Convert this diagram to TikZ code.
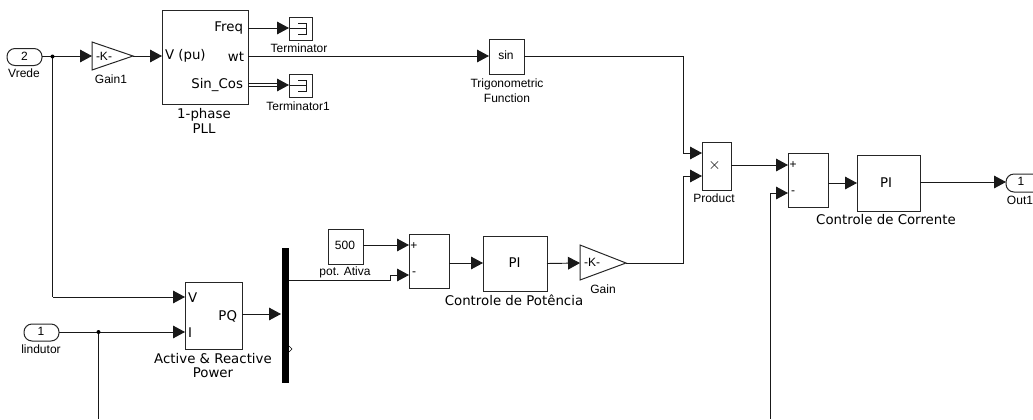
\documentclass[tikz,border=0pt]{standalone}
\usepackage{fontspec}
\setmainfont{Liberation Sans}
\newfontfamily\djv{DejaVu Sans}
\usetikzlibrary{arrows.meta,fit}
\tikzset{
  x=0.75pt,y=-0.75pt,
  blk/.style={draw=black!85,line width=0.75pt,inner sep=0pt,outer sep=0pt},
  lab/.style={inner sep=0pt,outer sep=0pt,align=center,font=\fontsize{9}{11}\selectfont},
  labd/.style={inner sep=0pt,outer sep=0pt,align=center,font=\djv\fontsize{10}{10.7}\selectfont},
  port/.style={inner sep=0pt,outer sep=0pt,font=\djv\fontsize{10}{11}\selectfont},
  pill/.style={blk,rounded corners=6pt},
  wire/.style={line width=0.7pt,draw=black!90},
  arr/.style={wire,-{Triangle[length=9pt,width=9.5pt]}},
  dot/.style={circle,fill=black,inner sep=0pt,minimum size=3pt}
}
\begin{document}
\begin{tikzpicture}
\useasboundingbox (0,0) rectangle (1033,419);

% inports
\node[pill,fit={(7,48.5)(42,65.5)}] (vrede) {};
\node[lab] (vreden) at (24.5,56) {2};
\node[lab] (vredel) at (24,73) {Vrede};
\node[pill,fit={(24,324)(59,341)}] (iind) {};
\node[lab] (iindn) at (41,331) {1};
\node[lab] (iindl) at (41,349) {lindutor};

% gain 1
\draw[blk] (92,42) -- (133,56) -- (92,70) -- cycle;
\coordinate (g1in) at (92,56);
\coordinate (g1out) at (133,56);
\node[lab] (g1t) at (104,56) {-K-};
\node[lab] (g1l) at (111,79) {Gain1};

% PLL
\node[blk,fit={(162,10)(248,104)}] (pll) {};
\node[port,anchor=west] (pllv) at (165,56) {V (pu)};
\node[port,anchor=east] (pllf) at (243,28) {Freq};
\node[port,anchor=east] (pllw) at (244,57) {wt};
\node[port,anchor=east] (plls) at (243,85) {Sin\_Cos};
\node[labd] (plll) at (204,121) {1-phase\\PLL};
\coordinate (pllin) at (162,56);
\coordinate (pllfo) at (248,28);
\coordinate (pllwo) at (248,56);
\coordinate (pllso) at (248,85);
\coordinate (pllsa) at (248,83.8);
\coordinate (pllsb) at (248,86.4);

% terminators
\node[blk,fit={(289,17)(312,40)}] (term) {};
\node[blk,fit={(289,74)(312,97)}] (term1) {};
\coordinate (dbla) at (280,83.8);
\coordinate (dblb) at (280,86.4);
\node[lab] (terml) at (299,48) {Terminator};
\node[lab] (term1l) at (298,106) {Terminator1};
\draw[wire,line width=0.6pt] (290,28.5) -- (306,28.5) (298,23) -- (306,23) -- (306,34) -- (298,34);
\draw[wire,line width=0.6pt] (290,85.5) -- (306,85.5) (298,80) -- (306,80) -- (306,91) -- (298,91);

% sin
\node[blk,fit={(489,39)(524,74)}] (sin) {};
\node[lab] (sint) at (506,55) {sin};
\node[lab] (sinl) at (507,90.5) {Trigonometric\\Function};

% active & reactive power
\node[blk,fit={(185,282)(242,349)}] (apq) {};
\node[port,anchor=west] (apqv) at (188,298) {V};
\node[port,anchor=west] (apqi) at (188,333) {I};
\node[port,anchor=east] (apqo) at (237,316) {PQ};
\node[labd] (apql) at (213,365.5) {Active \& Reactive\\Power};
\coordinate (apqvin) at (185,297);
\coordinate (apqiin) at (185,332);
\coordinate (apqout) at (242,314);

% demux bar
\node[draw=black,fill=black,inner sep=0pt,outer sep=0pt,fit={(282.5,248.5)(288.5,382.5)}] (bar) {};
\draw[line width=0.5pt] (289,346) -- (292,349) -- (289,352);
\coordinate (barin) at (281,314);
\coordinate (barout) at (289,280);

% 500 + labels
\node[blk,fit={(328,229)(363,264)}] (c500) {};
\node[lab] (c500t) at (345,245) {500};
\node[lab] (c500l) at (345,272) {pot. Ativa};

% sum 1
\node[blk,fit={(409,234)(449,288)}] (s1) {};
\node[lab] (s1p) at (414,246) {+};
\node[lab] (s1m) at (414,274) {-};
\coordinate (s1a) at (409,245);
\coordinate (s1b) at (409,275);
\coordinate (s1o) at (449,263);

% PI 1
\node[blk,fit={(483,236)(547,291)}] (pi1) {};
\node[port] (pi1t) at (514.5,263) {PI};
\node[labd] (pi1l) at (514,300.5) {Controle de Potência};

% Gain
\draw[blk] (580,245) -- (626,263) -- (580,280) -- cycle;
\coordinate (gin) at (580,263);
\coordinate (gout) at (626,263);
\node[lab] (gt) at (592,262) {-K-};
\node[lab] (gl) at (603,289) {Gain};

% product
\node[blk,fit={(702,142)(731,190)}] (prod) {};
\node[inner sep=0pt,font=\fontsize{13}{13}\selectfont] (prodt) at (714.5,165.5) {$\times$};
\node[lab] (prodl) at (714,198) {Product};
\coordinate (pa) at (702,153);
\coordinate (pb) at (702,176);

% sum 2
\node[blk,fit={(788,153)(828,207)}] (s2) {};
\node[lab] (s2p) at (793,165) {+};
\node[lab] (s2m) at (793,193) {-};
\coordinate (s2a) at (788,165);
\coordinate (s2b) at (788,193);

% PI 2
\node[blk,fit={(857,155)(920,211)}] (pi2) {};
\node[port] (pi2t) at (886,183) {PI};
\node[labd] (pi2l) at (886,220) {Controle de Corrente};

% outport
\draw[blk,rounded corners=6pt] (1033,174) -- (1006,174) -- (1006,192) -- (1033,192);
\coordinate (out) at (1006,182);
\node[lab] (outn) at (1021,181) {1};
\node[lab] (outl) at (1020,200) {Out1};

% free ends and corners
\coordinate (jv) at (52.5,56.5);
\coordinate (ji) at (98.5,332);
\coordinate (iend) at (98.5,419);
\coordinate (send) at (770,419);

% connectors
\draw[arr] (vrede.east |- g1in) -- (g1in);
\draw[arr] (g1out) -- (pllin);
\draw[arr] (pllfo) -- (term.west |- pllfo);
\draw[wire,line width=0.55pt] (pllsa) -- (dbla);
\draw[wire,line width=0.55pt] (pllsb) -- (dblb);
\draw[arr] (dbla |- pllso) -- (term1.west |- pllso);
\draw[arr] (pllwo) -- (sin.west |- pllwo);
\draw[wire] (jv) -- (jv |- apqvin);
\draw[arr] (jv |- apqvin) -- (apqvin);
\draw[arr] (iind.east |- apqiin) -- (apqiin);
\draw[wire] (ji) -- (ji |- iend);
\draw[arr] (apqout) -- (barin);
\draw[arr] (c500.east |- s1a) -- (s1a);
\draw[arr] (barout) -- (390,280) -- (390,275) -- (s1b);
\draw[arr] (s1o) -- (pi1.west |- s1o);
\draw[arr] (pi1.east) -- (gin);
\draw[arr] (sin.east |- pllwo) -- (683,56) -- (683,153) -- (pa);
\draw[arr] (gout) -- (683,263) -- (683,176) -- (pb);
\draw[arr] (prod.east |- s2a) -- (s2a);
\draw[arr] (send) -- (send |- s2b) -- (s2b);
\draw[arr] (s2.east |- pi2.west) -- (pi2.west);
\draw[arr] (pi2.east |- out) -- (out);
\node[dot] (jvd) at (jv) {};
\node[dot] (jid) at (ji) {};
\end{tikzpicture}
\end{document}
